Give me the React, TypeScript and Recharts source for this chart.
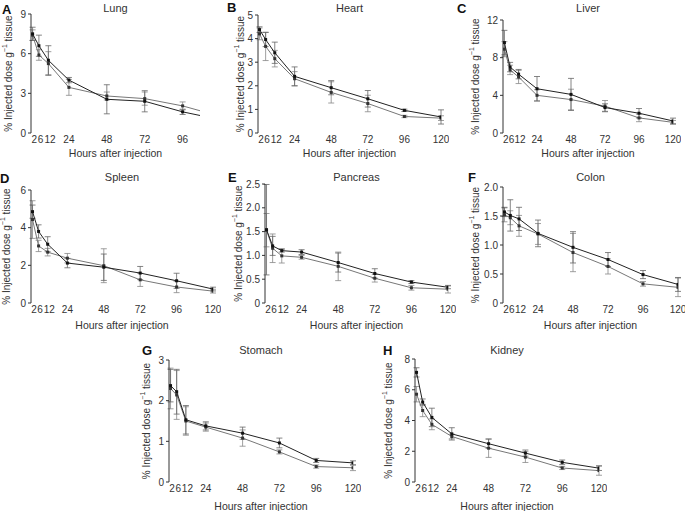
import React from 'react';
import { LineChart, Line, XAxis, YAxis, ErrorBar } from 'recharts';

// sampling times (hours after injection)
const hours = [1, 5, 11, 24, 48, 72, 96, 120];
const hourTicks = [2, 6, 12, 24, 48, 72, 96, 120];

// two series per organ (mean, error)
const lungA = [7.5, 6.6, 5.5, 4.0, 2.55, 2.4, 1.6, 1.0];
const lungAErr = [0.5, 0.8, 1.1, 0.2, 1.1, 0.8, 0.2, 0.2];
const lungB = [7.4, 5.9, 5.25, 3.45, 2.8, 2.6, 2.05, 1.25];
const lungBErr = [0.4, 0.4, 0.9, 0.6, 0.3, 0.5, 0.3, 0.2];

const heartA = [4.38, 3.96, 3.4, 2.4, 1.92, 1.45, 0.96, 0.68];
const heartAErr = [0.12, 0.3, 0.45, 0.4, 0.3, 0.35, 0.05, 0.3];
const heartB = [4.2, 3.67, 3.15, 2.3, 1.72, 1.25, 0.7, 0.63];
const heartBErr = [0.25, 0.6, 0.35, 0.3, 0.45, 0.35, 0.05, 0.1];

const liverA = [9.6, 7.0, 6.25, 4.7, 4.1, 2.7, 2.1, 1.28];
const liverAErr = [1.3, 0.5, 0.5, 1.3, 1.7, 0.4, 0.5, 0.3];
const liverB = [8.9, 6.7, 5.95, 4.0, 3.55, 2.85, 1.6, 1.13];
const liverBErr = [0.8, 0.5, 0.7, 0.6, 1.1, 0.6, 0.4, 0.2];

const spleenA = [4.85, 3.8, 3.12, 2.12, 1.9, 1.59, 1.18, 0.74];
const spleenAErr = [0.35, 0.35, 0.4, 0.25, 0.7, 0.35, 0.4, 0.1];
const spleenB = [4.43, 3.03, 2.7, 2.38, 1.98, 1.23, 0.85, 0.63];
const spleenBErr = [1.0, 0.3, 0.2, 0.25, 0.9, 0.35, 0.3, 0.1];

const pancreasA = [1.54, 1.2, 1.1, 1.07, 0.85, 0.62, 0.44, 0.33];
const pancreasAErr = [0.95, 0.2, 0.03, 0.05, 0.2, 0.1, 0.03, 0.03];
const pancreasB = [1.53, 1.15, 0.99, 0.96, 0.77, 0.52, 0.32, 0.29];
const pancreasBErr = [0.35, 0.3, 0.15, 0.04, 0.3, 0.08, 0.05, 0.08];

const colonA = [1.57, 1.51, 1.45, 1.2, 0.96, 0.75, 0.49, 0.32];
const colonAErr = [0.08, 0.27, 0.2, 0.23, 0.27, 0.12, 0.07, 0.12];
const colonB = [1.52, 1.47, 1.33, 1.19, 0.87, 0.63, 0.33, 0.27];
const colonBErr = [0.12, 0.12, 0.18, 0.18, 0.33, 0.13, 0.04, 0.16];

const stomachA = [2.37, 2.22, 1.53, 1.38, 1.2, 0.96, 0.53, 0.47];
const stomachAErr = [0.4, 0.55, 0.35, 0.1, 0.15, 0.12, 0.05, 0.05];
const stomachB = [2.3, 2.14, 1.5, 1.35, 1.08, 0.74, 0.38, 0.35];
const stomachBErr = [0.5, 0.6, 0.35, 0.1, 0.2, 0.05, 0.04, 0.07];

const kidneyA = [7.13, 5.2, 4.2, 3.13, 2.49, 1.88, 1.28, 0.9];
const kidneyAErr = [0.3, 0.2, 0.6, 0.4, 0.3, 0.2, 0.15, 0.15];
const kidneyB = [5.71, 4.65, 3.75, 2.96, 2.2, 1.62, 0.91, 0.74];
const kidneyBErr = [0.5, 0.4, 0.35, 0.15, 0.6, 0.35, 0.1, 0.3];

const toRows = (vals: number[], errs: number[]) =>
  hours.map((t, i) => ({ t, v: vals[i], e: errs[i] }));

const panels = [
  { letter: 'A', title: 'Lung', a: lungA, ae: lungAErr, b: lungB, be: lungBErr, x0: 31, x1: 200, yTop: 14, yBot: 133, xMax: 107, yMax: 9, yTicks: [0, 3, 6, 9], labOff: 23, xLabOff: 11, titleY: 8, lx: 2, ly: 2 },
  { letter: 'B', title: 'Heart', a: heartA, ae: heartAErr, b: heartB, be: heartBErr, x0: 258, x1: 441, yTop: 15, yBot: 133, xMax: 120, yMax: 5, yTicks: [0, 1, 2, 3, 4, 5], labOff: 18, xLabOff: 11, titleY: 8, lx: 227, ly: 0 },
  { letter: 'C', title: 'Liver', a: liverA, ae: liverAErr, b: liverB, be: liverBErr, x0: 503, x1: 673, yTop: 20, yBot: 133, xMax: 120, yMax: 12, yTicks: [0, 4, 8, 12], labOff: 28, xLabOff: 11, titleY: 8, lx: 457, ly: 1 },
  { letter: 'D', title: 'Spleen', a: spleenA, ae: spleenAErr, b: spleenB, be: spleenBErr, x0: 31, x1: 213, yTop: 190, yBot: 303, xMax: 120, yMax: 6, yTicks: [0, 2, 4, 6], labOff: 25, xLabOff: 9, titleY: 177, lx: 0, ly: 171 },
  { letter: 'E', title: 'Pancreas', a: pancreasA, ae: pancreasAErr, b: pancreasB, be: pancreasBErr, x0: 265, x1: 448, yTop: 184, yBot: 303, xMax: 120, yMax: 2.5, yTicks: [0, 0.5, 1, 1.5, 2, 2.5], labOff: 27, xLabOff: 9, titleY: 177, lx: 228, ly: 170 },
  { letter: 'F', title: 'Colon', a: colonA, ae: colonAErr, b: colonB, be: colonBErr, x0: 503, x1: 678, yTop: 187, yBot: 303, xMax: 120, yMax: 2, yTicks: [0, 0.5, 1, 1.5, 2], labOff: 28, xLabOff: 9, titleY: 177, lx: 468, ly: 170 },
  { letter: 'G', title: 'Stomach', a: stomachA, ae: stomachAErr, b: stomachB, be: stomachBErr, x0: 169, x1: 353, yTop: 360, yBot: 482, xMax: 120, yMax: 3, yTicks: [0, 1, 2, 3], labOff: 23, xLabOff: 7, titleY: 350, lx: 142, ly: 343 },
  { letter: 'H', title: 'Kidney', a: kidneyA, ae: kidneyAErr, b: kidneyB, be: kidneyBErr, x0: 415, x1: 599, yTop: 359, yBot: 482, xMax: 120, yMax: 8, yTicks: [0, 2, 4, 6, 8], labOff: 27, xLabOff: 7, titleY: 350, lx: 383, ly: 343 },
];

const AXIS_W = 45;
const TOP_PAD = 12;
const XAXIS_H = 35;
const TEXT = '#333';

const SquareDot = (props: any) => {
  const { cx, cy, index, fill } = props;
  if (cx == null || cy == null) return <g key={index} />;
  return <rect key={index} x={cx - 1.5} y={cy - 1.5} width={3} height={3} fill={fill} />;
};

const Panel = ({ p }: { p: any }) => {
  const plotW = p.x1 - p.x0;
  const plotH = p.yBot - p.yTop;
  const width = plotW + AXIS_W + 8;
  const height = plotH + TOP_PAD + XAXIS_H;
  const decimals = p.yMax <= 2.5;
  const ticks = hourTicks.filter((t) => t <= p.xMax);

  const yLabel = (props: any) => {
    const vb = props.viewBox;
    const x = vb.x + vb.width - p.labOff;
    const cy = vb.y + vb.height / 2;
    return (
      <text x={x} y={cy} transform={`rotate(-90 ${x} ${cy})`} textAnchor="middle" dominantBaseline="central" fontSize={10} fill={TEXT}>
        % Injected dose g<tspan dy={-4} fontSize={7}>−1</tspan><tspan dy={4}> tissue</tspan>
      </text>
    );
  };

  return (
    <>
      <div style={{ position: 'absolute', left: p.lx, top: p.ly, fontSize: 13, fontWeight: 700, color: '#111' }}>{p.letter}</div>
      <div style={{ position: 'absolute', left: p.x0, width: plotW, top: p.titleY - 7, textAlign: 'center', fontSize: 11, fontWeight: 400, color: TEXT, lineHeight: '14px' }}>{p.title}</div>
      <div style={{ position: 'absolute', left: p.x0 - AXIS_W, top: p.yTop - TOP_PAD }}>
        <LineChart width={width} height={height} margin={{ top: TOP_PAD, right: 8, left: 0, bottom: 0 }}>
          <XAxis
            type="number"
            dataKey="t"
            domain={[0, p.xMax]}
            ticks={ticks}
            interval={0}
            allowDataOverflow
            axisLine={false}
            tickLine={false}
            tickSize={2}
            tickMargin={1}
            height={XAXIS_H}
            tick={{ fontSize: 10, fill: TEXT }}
            label={{ value: 'Hours after injection', position: 'insideBottom', offset: p.xLabOff, fontSize: 10.5, fill: TEXT }}
          />
          <YAxis
            type="number"
            domain={[0, p.yMax]}
            ticks={p.yTicks}
            interval={0}
            width={AXIS_W}
            axisLine={{ stroke: '#333' }}
            tickLine={{ stroke: '#333' }}
            tickSize={3}
            tickMargin={2}
            tick={{ fontSize: 10, fill: TEXT }}
            tickFormatter={(v: number) => (v === 0 ? '0' : decimals ? v.toFixed(1) : String(v))}
            label={{ content: yLabel }}
          />
          <Line
            data={toRows(p.b, p.be)}
            dataKey="v"
            stroke="#777"
            strokeWidth={1}
            dot={(d: any) => <SquareDot {...d} fill="#333" />}
            isAnimationActive={false}
          >
            <ErrorBar dataKey="e" direction="y" width={3} stroke="#888" strokeWidth={0.8} />
          </Line>
          <Line
            data={toRows(p.a, p.ae)}
            dataKey="v"
            stroke="#222"
            strokeWidth={1}
            dot={(d: any) => <SquareDot {...d} fill="#111" />}
            isAnimationActive={false}
          >
            <ErrorBar dataKey="e" direction="y" width={3} stroke="#666" strokeWidth={0.8} />
          </Line>
        </LineChart>
      </div>
    </>
  );
};

export default function App() {
  return (
    <div style={{ position: 'absolute', left: 0, top: 0, width: 685, height: 511, background: '#fff', fontFamily: '"Liberation Sans", Arial, sans-serif', overflow: 'hidden' }}>
      {panels.map((p) => (
        <Panel key={p.letter} p={p} />
      ))}
    </div>
  );
}
